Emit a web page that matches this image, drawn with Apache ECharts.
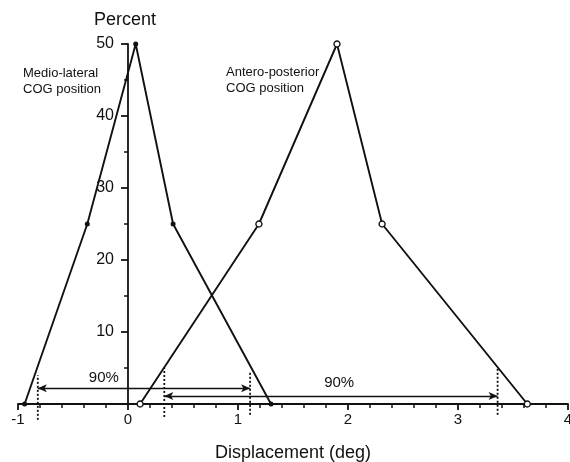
<!DOCTYPE html>
<html>
<head>
<meta charset="utf-8">
<script src="https://cdn.jsdelivr.net/npm/echarts@6/dist/echarts.min.js"></script>
<style>html,body{margin:0;padding:0;background:#fff}#c{width:570px;height:462px}</style>
</head>
<body>
<div id="c"></div>
<script>
// Data
var medioLateral = [[-0.94, 0], [-0.37, 25], [0.07, 50], [0.41, 25], [1.30, 0]];
var anteroPosterior = [[0.11, 0], [1.19, 25], [1.90, 50], [2.31, 25], [3.63, 0]];
var mlLimits = [-0.82, 1.11];
var apLimits = [0.33, 3.36];
var xTicks = [-1, 0, 1, 2, 3, 4];
var yTicks = [10, 20, 30, 40, 50];
var arrowLabel = '90%';

var FONT = 'Liberation Sans, Arial, sans-serif';
var chart = echarts.init(document.getElementById('c'));

function dotted(x, y0, y1) {
  return {
    type: 'line', data: [[x, y0], [x, y1]], clip: false, symbol: 'none', silent: true,
    lineStyle: { color: '#111', width: 1.8, type: [2, 2] }, z: 3
  };
}

chart.setOption({
  animation: false,
  backgroundColor: '#fff',
  grid: { left: 18, right: 2, top: 44, bottom: 58, containLabel: false, outerBoundsMode: 'none' },
  xAxis: {
    type: 'value', min: -1, max: 4, interval: 1,
    name: 'Displacement (deg)', nameLocation: 'middle', nameGap: 40,
    nameTextStyle: { fontFamily: FONT, fontSize: 18, color: '#111' },
    axisLine: { onZero: false, lineStyle: { color: '#111', width: 1.8 } },
    axisTick: { length: 6, lineStyle: { color: '#111', width: 1.8 } },
    minorTick: { show: true, splitNumber: 5, length: 4, lineStyle: { color: '#111', width: 1.5 } },
    splitLine: { show: false },
    axisLabel: { fontFamily: FONT, fontSize: 15, color: '#111', margin: 8,
      formatter: function (v) { return xTicks.indexOf(v) >= 0 ? String(v) : ''; } }
  },
  yAxis: {
    type: 'value', min: 0, max: 50, interval: 10, position: 'left', offset: -110,
    name: 'Percent', nameLocation: 'end', nameGap: 15,
    nameTextStyle: { fontFamily: FONT, fontSize: 18, color: '#111', align: 'center', padding: [0, 6, 0, 0] },
    axisLine: { onZero: false, lineStyle: { color: '#111', width: 1.8 } },
    axisTick: { length: 7, lineStyle: { color: '#111', width: 1.8 } },
    minorTick: { show: true, splitNumber: 2, length: 4, lineStyle: { color: '#111', width: 1.5 } },
    splitLine: { show: false },
    axisLabel: { fontFamily: FONT, fontSize: 16, color: '#111', margin: 14,
      formatter: function (v) { return yTicks.indexOf(v) >= 0 ? String(v) : ''; } }
  },
  series: [
    {
      name: 'Medio-lateral', type: 'line', data: medioLateral, clip: false,
      symbol: 'circle', symbolSize: 5,
      itemStyle: { color: '#111' },
      lineStyle: { color: '#111', width: 1.9 }, z: 4,
      markLine: {
        silent: true, symbol: ['arrow', 'arrow'], symbolSize: [6, 9],
        label: { show: false },
        lineStyle: { color: '#111', width: 1.4, type: 'solid' },
        data: [[{ coord: [mlLimits[0], 2.2] }, { coord: [mlLimits[1], 2.2] }]]
      }
    },
    {
      name: 'Antero-posterior', type: 'line', data: anteroPosterior, clip: false,
      symbol: 'circle', symbolSize: 6,
      itemStyle: { color: '#fff', borderColor: '#111', borderWidth: 1.4 },
      lineStyle: { color: '#111', width: 1.9 }, z: 4,
      markLine: {
        silent: true, symbol: ['arrow', 'arrow'], symbolSize: [6, 9],
        label: { show: false },
        lineStyle: { color: '#111', width: 1.4, type: 'solid' },
        data: [[{ coord: [apLimits[0], 1.1] }, { coord: [apLimits[1], 1.1] }]]
      }
    },
    dotted(mlLimits[0], -2.2, 4.0),
    dotted(mlLimits[1], -1.5, 4.6),
    dotted(apLimits[0], -1.8, 5.0),
    dotted(apLimits[1], -1.5, 5.0),
    {
      type: 'scatter', symbolSize: 0, silent: true, clip: false,
      itemStyle: { color: '#111', opacity: 1 },
      data: [[-0.22, 3.6], [1.92, 2.9]],
      label: { show: true, position: 'inside', formatter: arrowLabel,
        fontFamily: FONT, fontSize: 15, color: '#111', opacity: 1,
        textBorderWidth: 0, textBorderColor: 'transparent' }
    }
  ],
  graphic: [
    { type: 'text', left: 23, top: 65, style: { text: 'Medio-lateral\nCOG position',
      font: '13px Liberation Sans, Arial, sans-serif', fill: '#111', lineHeight: 16 } },
    { type: 'text', left: 226, top: 64, style: { text: 'Antero-posterior\nCOG position',
      font: '13px Liberation Sans, Arial, sans-serif', fill: '#111', lineHeight: 16 } }
  ]
});
</script>
</body>
</html>
